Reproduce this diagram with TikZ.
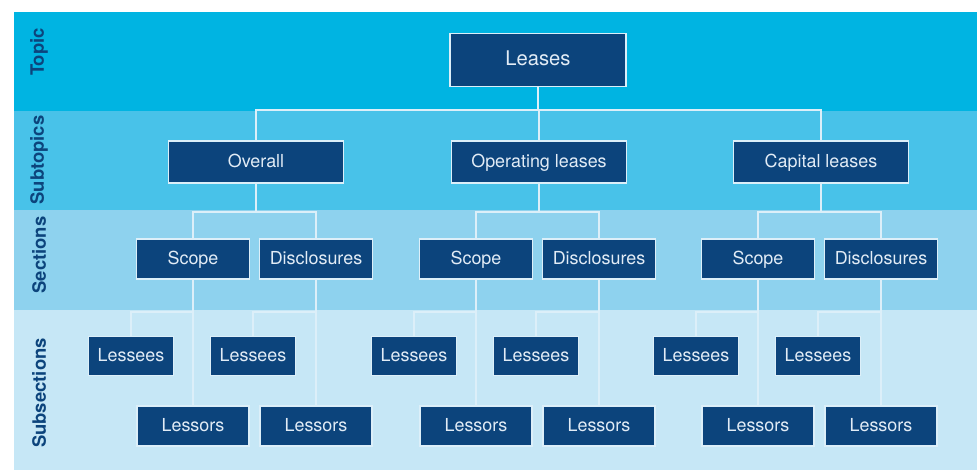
\documentclass[tikz,border=0pt]{standalone}
\usepackage{fontspec}
\setmainfont{TeX Gyre Heros}
\usepackage{tikz}
\definecolor{navy}{RGB}{12,68,124}
\definecolor{topicband}{RGB}{0,180,226}
\definecolor{subtopicband}{RGB}{72,194,233}
\definecolor{sectionband}{RGB}{142,210,238}
\definecolor{subsectionband}{RGB}{198,231,246}
\definecolor{rim}{RGB}{220,239,249}
\definecolor{boxtext}{RGB}{226,236,246}
\tikzset{
  box/.style={draw=rim, fill=navy, text=boxtext, line width=0.6pt, inner sep=0pt,
    text height=0.72em, text depth=0.08em, font=\fontsize{10.2}{12}\selectfont},
  topicbox/.style={box, minimum width=3.52cm, minimum height=1.06cm, font=\fontsize{11.5}{13}\selectfont},
  subtopicbox/.style={box, minimum width=3.5cm, minimum height=0.84cm},
  sectionbox/.style={box, minimum width=2.26cm, minimum height=0.8cm},
  lesseebox/.style={box, minimum width=1.7cm, minimum height=0.78cm},
  lessorbox/.style={box, minimum width=2.24cm, minimum height=0.8cm},
  link/.style={draw=rim, line width=1pt},
  bandlabel/.style={rotate=90, text=navy, font=\bfseries\fontsize{10.5}{12}\selectfont}
}

\begin{document}
\begin{tikzpicture}[x=0.02cm, y=-0.02cm]
      \useasboundingbox (0,0) rectangle (977,470);
      % bands
      \fill[topicband] (14,12) rectangle (977,111);
      \fill[subtopicband] (14,111) rectangle (977,210);
      \fill[sectionband] (14,210) rectangle (977,310);
      \fill[subsectionband] (14,310) rectangle (977,470);
      \node[bandlabel] (topic) at (39,52) {Topic};
      \node[bandlabel] (subtopics) at (39,160) {Subtopics};
      \node[bandlabel] (sections) at (39,255) {Sections};
      \node[bandlabel] (subsections) at (39,393) {Subsections};
      \coordinate (tierA) at (0,110);
      \coordinate (tierB) at (0,212);
      \coordinate (tierC) at (0,312);
      \node[topicbox] (leases) at (538,60) {Leases};
      \foreach \g/\dx/\name in {1/0/Overall, 2/283/Operating leases, 3/565/Capital leases} {
        \begin{scope}[shift={(\dx,0)}]
          \node[subtopicbox] (sub\g) at (256,162) {\name};
          \node[sectionbox] (scope\g) at (193,259) {Scope};
          \node[sectionbox] (discl\g) at (316,259) {Disclosures};
          \node[lesseebox] (lesseeA\g) at (131,356) {Lessees};
          \node[lesseebox] (lesseeB\g) at (253,356) {Lessees};
          \node[lessorbox] (lessorA\g) at (193,426) {Lessors};
          \node[lessorbox] (lessorB\g) at (316,426) {Lessors};
        \end{scope}
        \draw[link] (leases.south) -- (leases.south |- tierA) -| (sub\g.north);
        \draw[link] (sub\g.south) -- (sub\g.south |- tierB) -| (scope\g.north);
        \draw[link] (sub\g.south |- tierB) -| (discl\g.north);
        \draw[link] (scope\g.south) -- (lessorA\g.north);
        \draw[link] (scope\g.south |- tierC) -| (lesseeA\g.north);
        \draw[link] (discl\g.south) -- (lessorB\g.north);
        \draw[link] (discl\g.south |- tierC) -| (lesseeB\g.north);
      }
\end{tikzpicture}
\end{document}
